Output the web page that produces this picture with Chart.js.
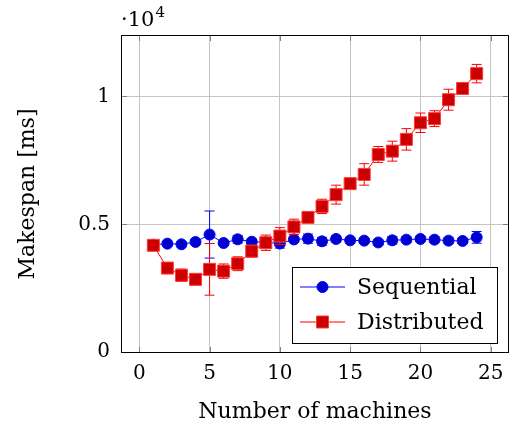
<!DOCTYPE html>
<html>
<head>
<meta charset="utf-8">
<script src="https://cdn.jsdelivr.net/npm/chart.js@4"></script>
<style>
  body { margin: 0; background: #fff; }
  canvas { display: block; }
</style>
</head>
<body>
<canvas id="makespan_chart" width="510" height="430"></canvas>
<script>
// data (makespan in ms, mean and +/- error)
const machines = [1, 2, 3, 4, 5, 6, 7, 8, 9, 10, 11, 12, 13, 14, 15, 16, 17, 18, 19, 20, 21, 22, 23, 24];
const sequentialMean = [4200, 4245, 4220, 4310, 4600, 4270, 4414, 4320, 4300, 4250, 4410, 4440, 4336, 4427, 4375, 4362, 4290, 4375, 4400, 4427, 4400, 4362, 4350, 4490];
const sequentialErr = [100, 80, 100, 100, 920, 100, 150, 100, 100, 180, 120, 180, 150, 120, 100, 100, 100, 150, 100, 100, 100, 100, 100, 230];
const distributedMean = [4180, 3290, 3010, 2850, 3240, 3170, 3460, 3950, 4280, 4540, 4900, 5270, 5700, 6160, 6590, 6950, 7730, 7860, 8320, 8970, 9130, 9870, 10310, 10890];
const distributedErr = [120, 150, 240, 120, 1010, 280, 270, 230, 300, 330, 300, 200, 280, 370, 150, 420, 310, 390, 420, 380, 310, 410, 150, 360];

const xTicks = [0, 5, 10, 15, 20, 25];
const yTicks = [0, 5000, 10000];
const yTickLabels = ['0', '0.5', '1'];

const seriesNames = ['Sequential', 'Distributed'];

const FONT = '"DejaVu Serif", serif';

function points(means) {
  const out = [];
  for (let i = 0; i < machines.length; i++) {
    out.push({ x: machines[i], y: means[i] });
  }
  return out;
}

// error bars, axis box, tick marks, exponent label and legend
const pgfLook = {
  id: 'pgfLook',
  beforeDatasetsDraw(chart) {
    const { ctx, chartArea: a, scales } = chart;
    ctx.save();
    ctx.strokeStyle = '#808080';
    ctx.lineWidth = 1;
    ctx.beginPath();
    xTicks.forEach(v => {
      const px = Math.round(scales.x.getPixelForValue(v)) + 0.5;
      ctx.moveTo(px, a.top); ctx.lineTo(px, a.top + 6);
      ctx.moveTo(px, a.bottom); ctx.lineTo(px, a.bottom - 6);
    });
    yTicks.forEach(v => {
      const py = Math.round(scales.y.getPixelForValue(v)) + 0.5;
      ctx.moveTo(a.left, py); ctx.lineTo(a.left + 6, py);
      ctx.moveTo(a.right, py); ctx.lineTo(a.right - 6, py);
    });
    ctx.stroke();
    ctx.strokeStyle = '#000';
    ctx.strokeRect(a.left + 0.5, a.top + 0.5, a.right - a.left - 1, a.bottom - a.top - 1);
    ctx.restore();
  },
  beforeDatasetDraw(chart, args) {
    const ds = chart.data.datasets[args.index];
    const { ctx, scales } = chart;
    ctx.save();
    ctx.strokeStyle = ds.borderColor;
    ctx.lineWidth = 1;
    ctx.beginPath();
    ds.data.forEach((p, i) => {
      const px = scales.x.getPixelForValue(p.x);
      const top = scales.y.getPixelForValue(p.y + ds.errors[i]);
      const bot = scales.y.getPixelForValue(p.y - ds.errors[i]);
      ctx.moveTo(px, top); ctx.lineTo(px, bot);
      ctx.moveTo(px - 5, top); ctx.lineTo(px + 5, top);
      ctx.moveTo(px - 5, bot); ctx.lineTo(px + 5, bot);
    });
    ctx.stroke();
    ctx.restore();
  },
  afterDraw(chart) {
    const { ctx } = chart;
    ctx.save();
    ctx.fillStyle = '#000';
    ctx.textBaseline = 'middle';
    ctx.textAlign = 'left';
    ctx.font = '21px ' + FONT;
    ctx.fillText('\u00b710', 121, 21);
    const w = ctx.measureText('\u00b710').width;
    ctx.font = '15px ' + FONT;
    ctx.fillText('4', 121 + w + 1, 13);

    // legend
    const lx = 292, ly = 267, lw = 205, lh = 76;
    ctx.fillStyle = '#fff';
    ctx.fillRect(lx, ly, lw, lh);
    ctx.strokeStyle = '#000';
    ctx.lineWidth = 1;
    ctx.strokeRect(lx + 0.5, ly + 0.5, lw, lh);
    const rows = [287, 322];
    chart.data.datasets.forEach((ds, i) => {
      const y = rows[i];
      ctx.strokeStyle = ds.borderColor;
      ctx.beginPath();
      ctx.moveTo(300, y); ctx.lineTo(345, y);
      ctx.stroke();
      ctx.fillStyle = ds.pointBackgroundColor;
      ctx.strokeStyle = ds.pointBorderColor;
      ctx.beginPath();
      if (ds.pointStyle === 'rect') {
        ctx.rect(316.5, y - 6, 12, 12);
      } else {
        ctx.arc(322.5, y, 5.5, 0, Math.PI * 2);
      }
      ctx.fill();
      ctx.stroke();
      ctx.fillStyle = '#000';
      ctx.font = '22px ' + FONT;
      ctx.fillText(ds.label, 357, y + 1);
    });
    ctx.restore();
  }
};

new Chart(document.getElementById('makespan_chart'), {
  type: 'line',
  data: {
    datasets: [
      {
        label: seriesNames[0],
        data: points(sequentialMean),
        errors: sequentialErr,
        borderColor: 'rgb(0,0,255)',
        borderWidth: 1,
        pointStyle: 'circle',
        pointRadius: 5.5,
        pointBackgroundColor: 'rgb(0,0,204)',
        pointBorderColor: 'rgb(0,0,255)',
        pointBorderWidth: 1,
        order: 2
      },
      {
        label: seriesNames[1],
        data: points(distributedMean),
        errors: distributedErr,
        borderColor: 'rgb(255,0,0)',
        borderWidth: 1,
        pointStyle: 'rect',
        pointRadius: 8.5,
        pointBackgroundColor: 'rgb(204,0,0)',
        pointBorderColor: 'rgb(255,60,60)',
        pointBorderWidth: 1,
        order: 1
      }
    ]
  },
  options: {
    responsive: false,
    animation: false,
    layout: { autoPadding: false, padding: { top: 35, right: 1, left: 0, bottom: 0 } },
    scales: {
      x: {
        type: 'linear',
        min: -1.3,
        max: 26.3,
        afterBuildTicks: s => { s.ticks = xTicks.map(v => ({ value: v })); },
        afterFit: s => { s.height = 77; s.paddingLeft = 0; s.paddingRight = 0; },
        grid: { color: '#c4c4c4', drawTicks: false },
        border: { display: false },
        ticks: {
          padding: 9,
          color: '#000',
          font: { family: FONT, size: 20 },
          callback: v => String(v)
        },
        title: {
          display: true,
          text: 'Number of machines',
          color: '#000',
          font: { family: FONT, size: 22 },
          padding: { top: 0, bottom: 5 }
        }
      },
      y: {
        type: 'linear',
        min: -30,
        max: 12400,
        afterBuildTicks: s => { s.ticks = yTicks.map(v => ({ value: v })); },
        afterFit: s => { s.width = 121; s.paddingTop = 0; s.paddingBottom = 0; },
        grid: { color: '#c4c4c4', drawTicks: false },
        border: { display: false },
        ticks: {
          padding: 11,
          color: '#000',
          font: { family: FONT, size: 20 },
          callback: v => yTickLabels[yTicks.indexOf(v)]
        },
        title: {
          display: true,
          text: 'Makespan [ms]',
          color: '#000',
          font: { family: FONT, size: 22 },
          padding: { top: 15, bottom: 0 }
        }
      }
    },
    plugins: {
      legend: { display: false },
      tooltip: { enabled: false }
    }
  },
  plugins: [pgfLook]
});
</script>
</body>
</html>
